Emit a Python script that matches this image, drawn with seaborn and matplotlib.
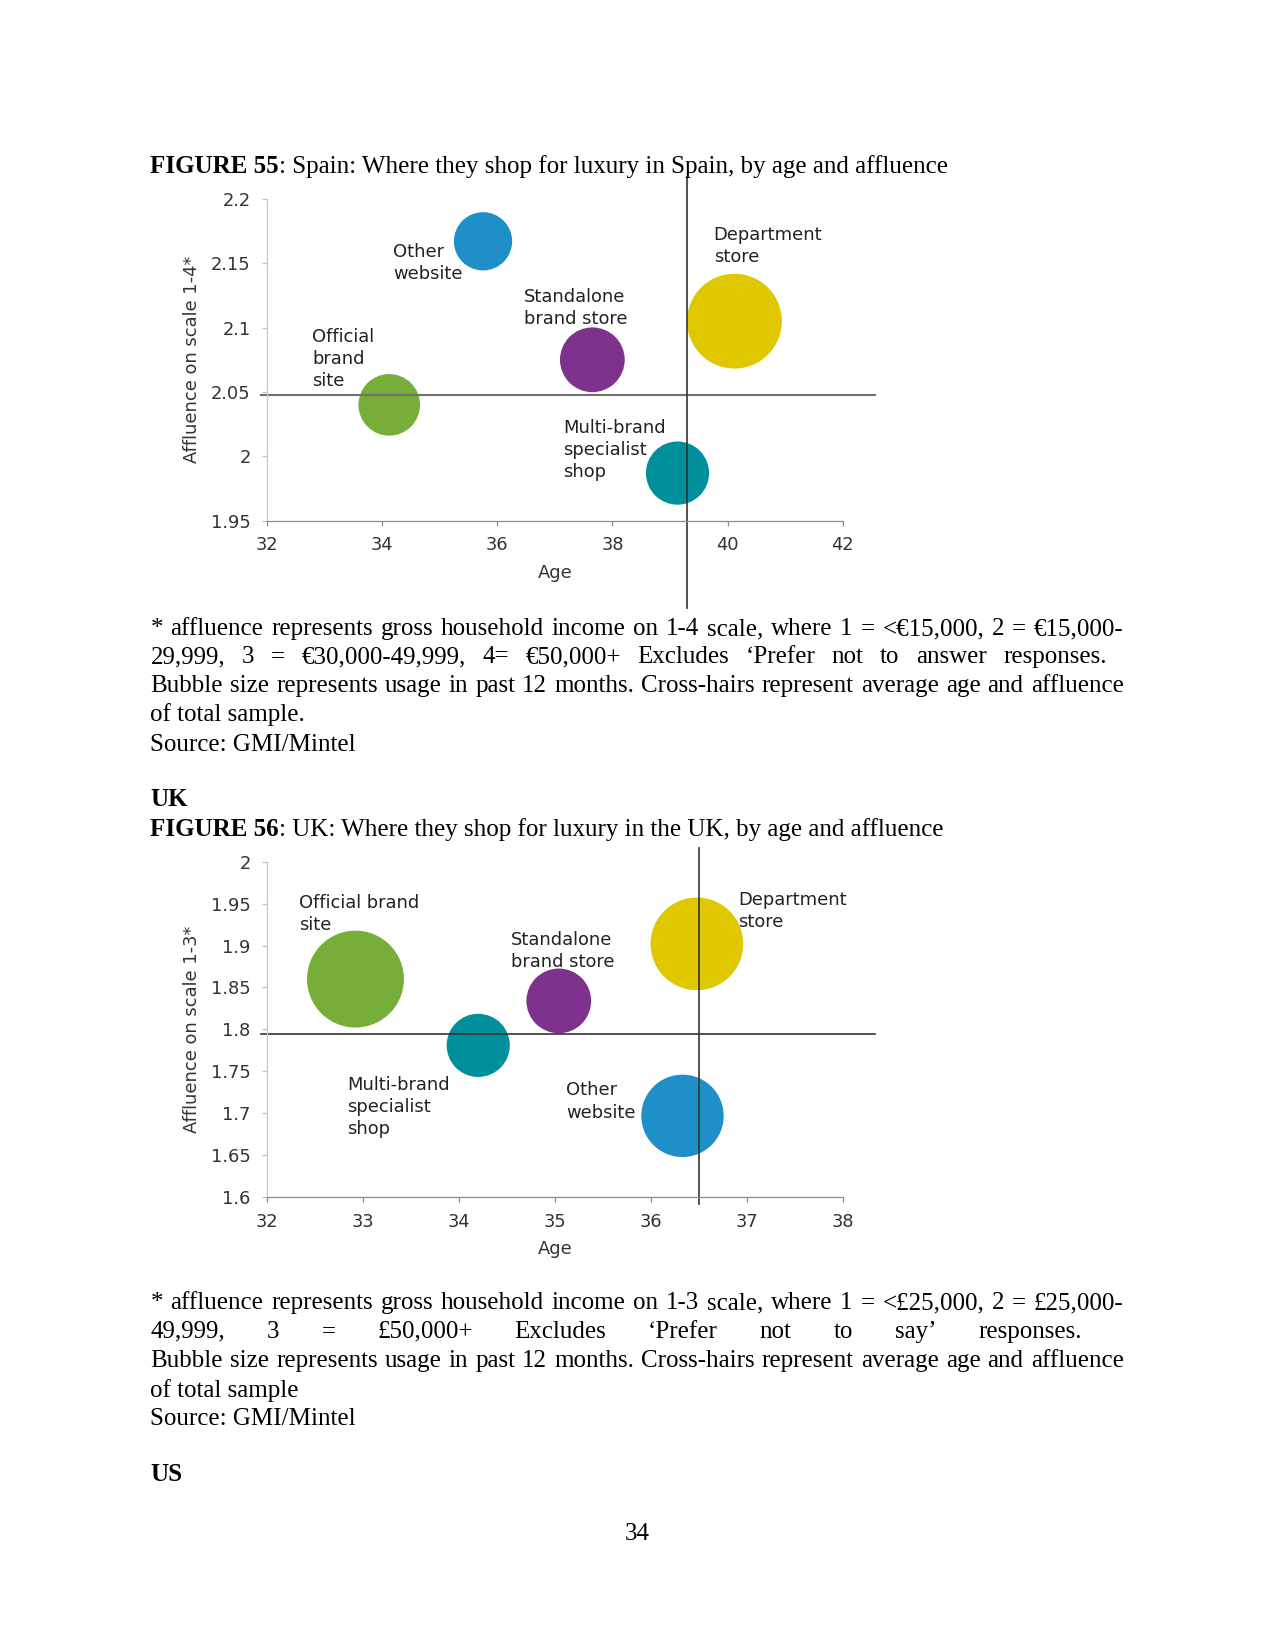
import numpy as np
import pandas as pd
import seaborn as sns
import matplotlib.pyplot as plt
from matplotlib.ticker import FuncFormatter

# ---- data ----
spain_labels = ["Other\nwebsite", "Department\nstore", "Standalone\nbrand store",
                "Official\nbrand\nsite", "Multi-brand\nspecialist\nshop"]
spain_age = [35.75, 40.12, 37.65, 34.12, 39.13]
spain_affluence = [2.167, 2.105, 2.075, 2.040, 1.987]
spain_usage = [17, 45, 21, 19, 20]
spain_avg_age = 39.3
spain_avg_affluence = 2.048
spain_xticks = [32, 34, 36, 38, 40, 42]
spain_yticks = [1.95, 2.0, 2.05, 2.1, 2.15, 2.2]

uk_labels = ["Official brand\nsite", "Multi-brand\nspecialist\nshop", "Standalone\nbrand store",
             "Department\nstore", "Other\nwebsite"]
uk_age = [32.92, 34.20, 35.04, 36.48, 36.33]
uk_affluence = [1.860, 1.781, 1.834, 1.902, 1.697]
uk_usage = [47, 20, 21, 43, 34]
uk_avg_age = 36.5
uk_avg_affluence = 1.794
uk_xticks = [32, 33, 34, 35, 36, 37, 38]
uk_yticks = [1.6, 1.65, 1.7, 1.75, 1.8, 1.85, 1.9, 1.95, 2.0]

colors = {"Other": "#1f8fca", "Department": "#dfc800", "Standalone": "#7e318d",
          "Official": "#77ad39", "Multi-brand": "#00909d"}

# label offsets from bubble centre (points)
spain_offsets = [(-43, -1), (-10, 45.5), (-33, 34.5), (-37, 37), (-55, 26)]
uk_offsets = [(-27, 41), (-63, -14.5), (-23, 33.5), (20, 25.5), (-56, 16.5)]

W, H = 1275, 1650
fig = plt.figure(figsize=(W / 150, H / 150), dpi=150)
plt.rcParams['font.family'] = ['DejaVu Sans']
SERIF = 'Liberation Serif'


def px(x, y):
    return x / W, 1 - y / H


def bubble_chart(rect, labels, age, aff, usage, avg_age, avg_aff, xt, yt, ylab,
                 offsets, vline_span, hcol, hlw):
    ax = fig.add_axes(rect)
    df = pd.DataFrame({"age": age, "aff": aff, "usage": usage, "label": labels})
    pal = {l: colors[l.split("\n")[0].split(" ")[0]] for l in labels}
    sns.scatterplot(data=df, x="age", y="aff", hue="label", palette=pal,
                    size="usage", sizes=(0, 4600), size_norm=(0, 100),
                    linewidth=0, alpha=1, legend=False, ax=ax)
    for l, a, f, off in zip(labels, age, aff, offsets):
        ax.annotate(l, (a, f), xytext=off, textcoords="offset points",
                    ha="left", va="top", fontsize=8.6, color="#222222",
                    linespacing=1.29)
    ax.axhline(avg_aff, xmin=-0.011, xmax=1.057, color=hcol, lw=hlw, clip_on=False)
    ax.axvline(avg_age, ymin=vline_span[0], ymax=vline_span[1], color="#333333",
               lw=0.8, clip_on=False)
    ax.set_xlim(xt[0], xt[-1])
    ax.set_ylim(yt[0], yt[-1])
    ax.set_xticks(xt)
    ax.set_yticks(yt)
    fmt = FuncFormatter(lambda v, p: f"{v:g}")
    ax.xaxis.set_major_formatter(fmt)
    ax.yaxis.set_major_formatter(fmt)
    for s in ["top", "right"]:
        ax.spines[s].set_visible(False)
    ax.spines["left"].set_color("#c8c8c8")
    ax.spines["bottom"].set_color("#8c8c8c")
    ax.spines["left"].set_linewidth(0.6)
    ax.spines["bottom"].set_linewidth(0.6)
    ax.tick_params(axis="y", length=2.5, width=0.6, color="#c0c0c0", pad=5.5,
                   labelsize=8.6, labelcolor="#333333")
    ax.tick_params(axis="x", length=2.5, width=0.6, color="#8c8c8c", pad=5,
                   labelsize=8.6, labelcolor="#333333")
    ax.set_xlabel("Age", fontsize=8.6, color="#333333", va="center")
    ax.set_ylabel(ylab, fontsize=8.6, color="#333333", va="center", ha="center")
    ax.patch.set_alpha(0)
    return ax


ax1 = bubble_chart([0.2096, 0.6844, 0.4513, 0.1951], spain_labels, spain_age,
                   spain_affluence, spain_usage, spain_avg_age, spain_avg_affluence,
                   spain_xticks, spain_yticks, "Affluence on scale 1-4*",
                   spain_offsets, (-0.271, 1.069), "#707070", 1.0)
ax1.xaxis.set_label_coords(0.5, -0.163)
ax1.yaxis.set_label_coords(-0.130, 0.5)

ax2 = bubble_chart([0.2096, 0.2744, 0.4513, 0.2034], uk_labels, uk_age,
                   uk_affluence, uk_usage, uk_avg_age, uk_avg_affluence,
                   uk_xticks, uk_yticks, "Affluence on scale 1-3*",
                   uk_offsets, (-0.019, 1.041), "#333333", 0.8)
ax2.xaxis.set_label_coords(0.5, -0.154)
ax2.yaxis.set_label_coords(-0.130, 0.5)

# ---- page text ----
R = fig.canvas.get_renderer()
X0, X1 = 150.4, 1123.5
BASE = 8.0  # baseline sits this far below the visual line centre


def plain(s, x, y, bold=False, ha="left"):
    return fig.text(*px(x, y + BASE), s, family=SERIF, fontsize=12, va="baseline",
                    ha=ha, weight="bold" if bold else "normal", color="black")


def caption(bold_part, rest, y):
    t = plain(bold_part, X0, y, bold=True)
    w = t.get_window_extent(R).width
    plain(rest, X0 + w, y)


def justify(line, y, x1):
    words = line.split()
    arts = [plain(w, 0, y) for w in words]
    widths = [a.get_window_extent(R).width for a in arts]
    gap = (x1 - X0 - sum(widths)) / (len(words) - 1)
    x = X0
    for a, w in zip(arts, widths):
        a.set_position(px(x, y + BASE))
        x += w + gap


caption("FIGURE 55", ": Spain: Where they shop for luxury in Spain, by age and affluence", 165.2)
justify("* affluence represents gross household income on 1-4 scale, where 1 = <€15,000, 2 = €15,000-", 627.0, X1)
justify("29,999, 3 = €30,000-49,999, 4= €50,000+ Excludes ‘Prefer not to answer responses.", 655.4, 1106.7)
justify("Bubble size represents usage in past 12 months. Cross-hairs represent average age and affluence", 683.8, X1)
plain("of total sample.", X0, 713.2)
plain("Source: GMI/Mintel", X0, 742.7)

plain("UK", X0, 798.5, bold=True)
caption("FIGURE 56", ": UK: Where they shop for luxury in the UK, by age and affluence", 828.0)
justify("* affluence represents gross household income on 1-3 scale, where 1 = <£25,000, 2 = £25,000-", 1301.3, X1)
justify("49,999, 3 = £50,000+ Excludes ‘Prefer not to say’ responses.", 1329.7, 1081.5)
justify("Bubble size represents usage in past 12 months. Cross-hairs represent average age and affluence", 1359.2, X1)
plain("of total sample", X0, 1388.6)
plain("Source: GMI/Mintel", X0, 1417.0)

plain("US", X0, 1472.8, bold=True)
plain("34", 637.5, 1531.7, ha="center")

fig.savefig("out.png", dpi=150)
